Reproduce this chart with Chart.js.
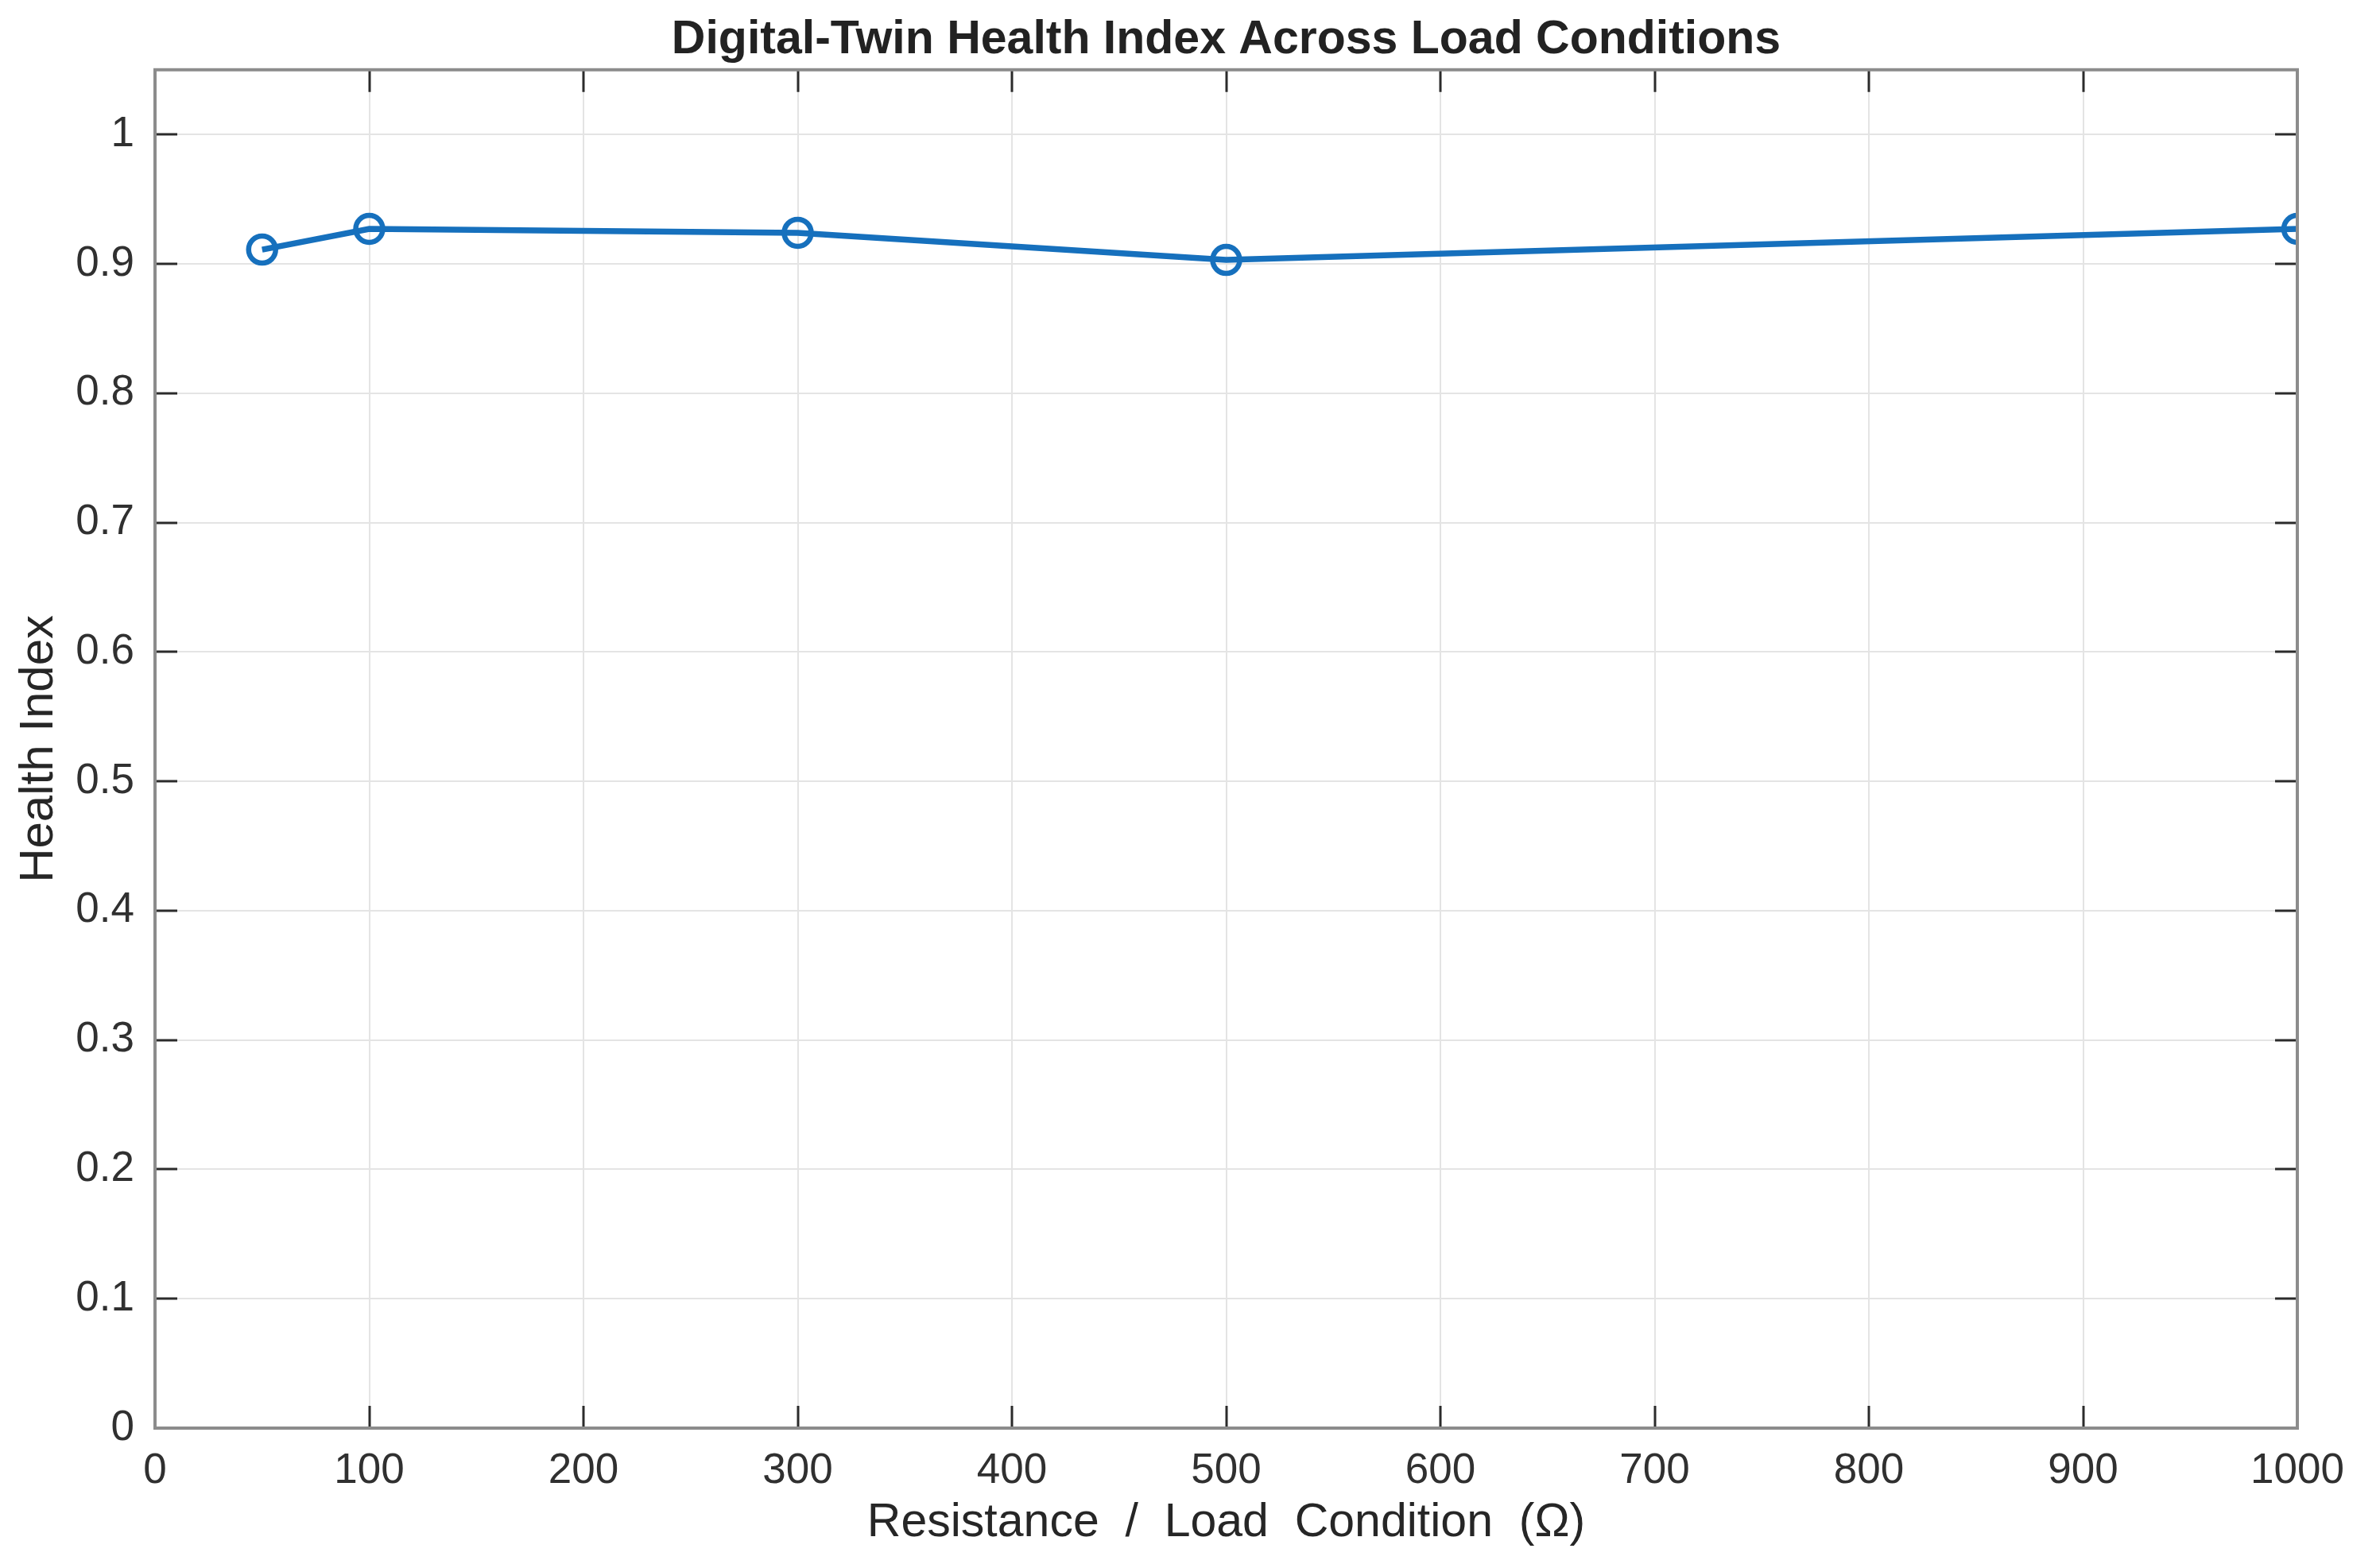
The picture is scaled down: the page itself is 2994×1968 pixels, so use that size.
<!DOCTYPE html>
<html>
<head>
<meta charset="utf-8">
<script src="https://cdn.jsdelivr.net/npm/chart.js@4.4.1/dist/chart.umd.min.js"></script>
<style>
  body { margin: 0; background: #ffffff; }
  canvas { display: block; }
</style>
</head>
<body>
<canvas id="healthChart" width="2994" height="1968" style="width:2994px;height:1968px"></canvas>
<script>
// load conditions (ohm) and health index
var loadOhms = [50, 100, 300, 500, 1000];
var healthIndex = [0.911, 0.927, 0.924, 0.903, 0.927];

var xTickValues = [0, 100, 200, 300, 400, 500, 600, 700, 800, 900, 1000];
var yTickValues = [0, 0.1, 0.2, 0.3, 0.4, 0.5, 0.6, 0.7, 0.8, 0.9, 1];

var chartTitle = 'Digital-Twin Health Index Across Load Conditions';
var xLabel = 'Resistance  /  Load  Condition  (\u03A9)';
var yLabel = 'Health Index';

var points = [];
for (var i = 0; i < loadOhms.length; i++) {
  points.push({ x: loadOhms[i], y: healthIndex[i] });
}

// matlab style box with ticks pointing inwards on all four sides
var boxTicks = {
  id: 'boxTicks',
  afterDraw: function(chart) {
    var ctx = chart.ctx;
    var a = chart.chartArea;
    var xs = chart.scales.x, ys = chart.scales.y;
    var len = 28;
    ctx.save();
    ctx.strokeStyle = '#2b2b2b';
    ctx.lineWidth = 3;
    ctx.beginPath();
    xTickValues.forEach(function(v) {
      var px = Math.round(xs.getPixelForValue(v));
      ctx.moveTo(px, a.bottom); ctx.lineTo(px, a.bottom - len);
      ctx.moveTo(px, a.top); ctx.lineTo(px, a.top + len);
    });
    yTickValues.forEach(function(v) {
      var py = Math.round(ys.getPixelForValue(v));
      ctx.moveTo(a.left, py); ctx.lineTo(a.left + len, py);
      ctx.moveTo(a.right, py); ctx.lineTo(a.right - len, py);
    });
    ctx.stroke();
    ctx.strokeStyle = '#8c8c8c';
    ctx.lineWidth = 4;
    ctx.strokeRect(a.left, a.top, a.right - a.left, a.bottom - a.top);
    ctx.restore();
  }
};

var ctx = document.getElementById('healthChart').getContext('2d');
var chart = new Chart(ctx, {
  type: 'line',
  data: {
    datasets: [{
      data: points,
      borderColor: '#1670bd',
      borderWidth: 7.5,
      pointRadius: 17,
      pointHoverRadius: 17,
      pointBorderWidth: 6.5,
      pointBorderColor: '#1670bd',
      pointBackgroundColor: 'rgba(255,255,255,0)',
      fill: false,
      tension: 0
    }]
  },
  options: {
    responsive: false,
    devicePixelRatio: 1,
    animation: false,
    layout: { padding: { left: 0, right: 104, top: 0, bottom: 0 } },
    plugins: {
      legend: { display: false },
      tooltip: { enabled: false },
      title: {
        display: true,
        text: chartTitle,
        fullSize: false,
        color: '#222222',
        font: { family: 'Liberation Sans', size: 59, weight: 'bold' },
        padding: { top: 15, bottom: 2 }
      }
    },
    scales: {
      x: {
        type: 'linear',
        min: 0,
        max: 1000,
        afterFit: function(s) { s.height = 171; },
        afterBuildTicks: function(s) { s.ticks = xTickValues.map(function(v) { return { value: v }; }); },
        grid: { color: '#e4e4e4', lineWidth: 2, drawTicks: false },
        border: { display: false },
        ticks: {
          color: '#303030',
          padding: 23,
          maxRotation: 0,
          font: { family: 'Liberation Sans', size: 53 },
          callback: function(v) { return String(v); }
        },
        title: {
          display: true,
          text: xLabel,
          color: '#262626',
          font: { family: 'Liberation Sans', size: 59 },
          padding: { top: 0, bottom: 16 }
        }
      },
      y: {
        type: 'linear',
        min: 0,
        max: 1.05,
        afterFit: function(s) { s.width = 195; },
        afterBuildTicks: function(s) { s.ticks = yTickValues.map(function(v) { return { value: v }; }); },
        grid: { color: '#e4e4e4', lineWidth: 2, drawTicks: false },
        border: { display: false },
        ticks: {
          color: '#303030',
          padding: 26,
          font: { family: 'Liberation Sans', size: 53 },
          callback: function(v) { return String(Math.round(v * 10) / 10); }
        },
        title: {
          display: true,
          text: yLabel,
          color: '#262626',
          font: { family: 'Liberation Sans', size: 60 },
          padding: { top: 13, bottom: 0 }
        }
      }
    }
  },
  plugins: [boxTicks]
});
</script>
</body>
</html>
